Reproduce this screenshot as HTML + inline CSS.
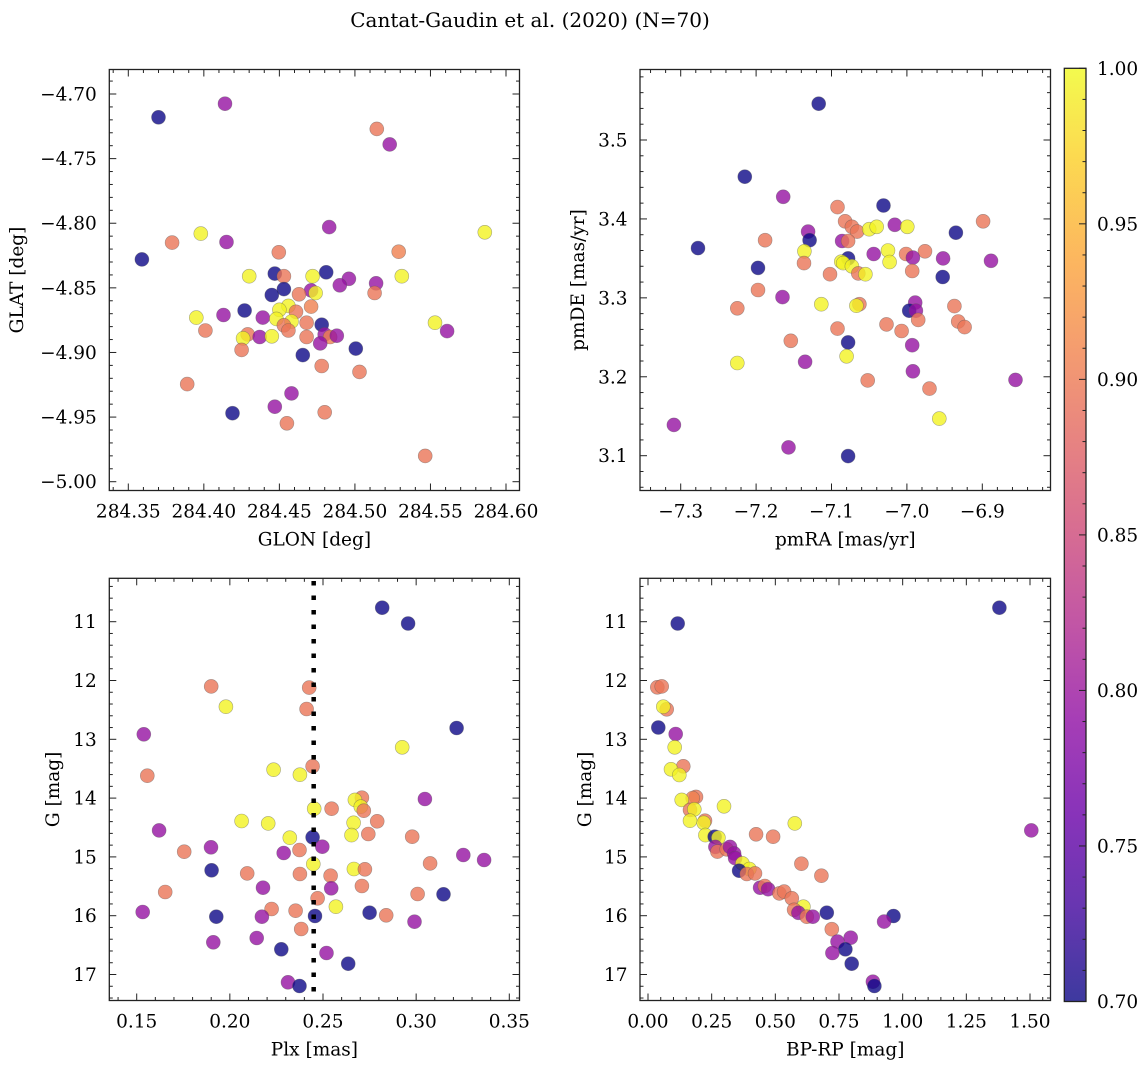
<!DOCTYPE html>
<html><head><meta charset="utf-8"><style>
html,body{margin:0;padding:0;background:#fff;}
svg text{font-family:"DejaVu Serif","Liberation Serif",serif;fill:#000;}
</style></head><body>
<svg id="fig" width="1148" height="1068" viewBox="0 0 1148 1068" xmlns="http://www.w3.org/2000/svg">
<defs>
<linearGradient id="plasmaGrad" x1="0" y1="1" x2="0" y2="0">
<stop offset="0" stop-color="#0d0887"/><stop offset="0.1" stop-color="#41049d"/><stop offset="0.2" stop-color="#6a00a8"/><stop offset="0.3" stop-color="#8f0da4"/><stop offset="0.4" stop-color="#b12a90"/><stop offset="0.5" stop-color="#cc4778"/><stop offset="0.6" stop-color="#e16462"/><stop offset="0.7" stop-color="#f2844b"/><stop offset="0.8" stop-color="#fca636"/><stop offset="0.9" stop-color="#fcce25"/><stop offset="1" stop-color="#f0f921"/>
</linearGradient>
</defs>
<text x="530" y="27" font-size="20" text-anchor="middle">Cantat-Gaudin et al. (2020) (N=70)</text>
</svg>
<script>
// ---- Panel 1: GLON / GLAT ----
const p1Glon = [284.370,284.414,284.5145,284.523,284.483,284.586,284.398,284.379,284.415,284.4496,284.529,284.359,284.430,284.447,284.453,284.472,284.481,284.531,284.496,284.490,284.514,284.513,284.453,284.471,284.474,284.445,284.463,284.471,284.456,284.450,284.461,284.427,284.413,284.395,284.439,284.448,284.458,284.468,284.478,284.453,284.401,284.456,284.561,284.553,284.429,284.426,284.437,284.445,284.468,284.480,284.4836,284.488,284.477,284.425,284.5006,284.4655,284.478,284.503,284.389,284.458,284.447,284.419,284.480,284.455,284.5465];
const p1Glat = [-4.718,-4.7075,-4.727,-4.739,-4.803,-4.807,-4.808,-4.815,-4.8145,-4.8225,-4.822,-4.828,-4.841,-4.839,-4.841,-4.841,-4.838,-4.841,-4.843,-4.848,-4.8465,-4.854,-4.851,-4.852,-4.854,-4.8555,-4.855,-4.8645,-4.864,-4.867,-4.8685,-4.8675,-4.871,-4.873,-4.873,-4.874,-4.876,-4.877,-4.8785,-4.879,-4.883,-4.883,-4.8835,-4.877,-4.886,-4.889,-4.888,-4.8875,-4.888,-4.886,-4.888,-4.887,-4.893,-4.898,-4.897,-4.902,-4.9105,-4.915,-4.9245,-4.9317,-4.942,-4.947,-4.9463,-4.9548,-4.980];
const p1Prob = [0.70,0.795,0.895,0.795,0.795,0.995,0.995,0.895,0.795,0.895,0.905,0.70,0.995,0.70,0.895,0.995,0.70,0.995,0.795,0.795,0.795,0.895,0.70,0.795,0.995,0.70,0.895,0.905,0.995,0.995,0.895,0.70,0.795,0.995,0.795,0.995,0.995,0.895,0.70,0.895,0.895,0.895,0.795,0.995,0.895,0.995,0.795,0.995,0.895,0.795,0.905,0.795,0.795,0.895,0.70,0.70,0.895,0.895,0.895,0.795,0.795,0.70,0.895,0.895,0.895];
const p1XTicks = [284.35,284.40,284.45,284.50,284.55,284.60];
const p1XTickLabels = ["284.35","284.40","284.45","284.50","284.55","284.60"];
const p1YTicks = [-4.70,-4.75,-4.80,-4.85,-4.90,-4.95,-5.00];
const p1YTickLabels = ["\u22124.70","\u22124.75","\u22124.80","\u22124.85","\u22124.90","\u22124.95","\u22125.00"];

// ---- Panel 2: pmRA / pmDE ----
const p2PmRA = [-7.117,-7.215,-7.164,-7.092,-7.031,-6.899,-7.082,-7.073,-7.066,-7.050,-7.040,-7.016,-6.9995,-6.935,-7.131,-7.129,-7.188,-7.086,-7.078,-7.277,-7.136,-7.044,-7.025,-6.976,-7.001,-6.992,-6.952,-6.8885,-7.078,-7.087,-7.0845,-7.023,-7.1365,-7.1975,-7.073,-6.993,-7.102,-7.0645,-7.055,-6.9525,-7.1975,-7.165,-7.225,-7.1135,-7.063,-7.067,-6.989,-6.997,-6.988,-6.937,-6.985,-6.932,-6.9235,-7.027,-7.007,-7.092,-7.154,-7.078,-6.993,-7.080,-7.225,-7.135,-6.992,-7.052,-6.856,-6.970,-6.957,-7.309,-7.157,-7.078];
const p2PmDE = [3.546,3.4535,3.428,3.415,3.417,3.397,3.397,3.390,3.384,3.387,3.390,3.3926,3.390,3.3825,3.384,3.373,3.373,3.372,3.372,3.363,3.359,3.3555,3.360,3.359,3.3555,3.351,3.350,3.347,3.350,3.3458,3.344,3.3454,3.344,3.338,3.340,3.334,3.330,3.331,3.330,3.3264,3.310,3.301,3.2867,3.292,3.292,3.290,3.294,3.2837,3.2837,3.2896,3.272,3.270,3.263,3.2664,3.258,3.261,3.2456,3.2436,3.240,3.226,3.2174,3.219,3.207,3.1954,3.196,3.185,3.147,3.139,3.1105,3.0995];
const p2Prob = [0.70,0.70,0.795,0.895,0.70,0.895,0.895,0.895,0.895,0.995,0.995,0.795,0.995,0.70,0.795,0.70,0.895,0.795,0.895,0.70,0.995,0.795,0.995,0.895,0.895,0.795,0.795,0.795,0.70,0.995,0.995,0.995,0.895,0.70,0.995,0.895,0.895,0.895,0.995,0.70,0.895,0.795,0.895,0.995,0.895,0.995,0.795,0.70,0.795,0.895,0.895,0.895,0.895,0.895,0.895,0.895,0.895,0.70,0.795,0.995,0.995,0.795,0.795,0.895,0.795,0.895,0.995,0.795,0.795,0.70];
const p2XTicks = [-7.3,-7.2,-7.1,-7.0,-6.9];
const p2XTickLabels = ["\u22127.3","\u22127.2","\u22127.1","\u22127.0","\u22126.9"];
const p2YTicks = [3.1,3.2,3.3,3.4,3.5];
const p2YTickLabels = ["3.1","3.2","3.3","3.4","3.5"];

// ---- Panel 3: Plx / G ----
const p3Plx = [0.2818,0.2957,0.190,0.2426,0.1979,0.2412,0.1538,0.3217,0.2925,0.1557,0.2235,0.2376,0.2444,0.3047,0.2709,0.2671,0.2703,0.2719,0.2546,0.2453,0.2063,0.2206,0.2664,0.2791,0.162,0.2743,0.2653,0.2979,0.2322,0.2444,0.2496,0.1899,0.1755,0.2374,0.2289,0.3253,0.3365,0.2448,0.3075,0.1902,0.2666,0.2725,0.2093,0.2376,0.2541,0.2178,0.2544,0.2709,0.1653,0.3008,0.3147,0.2471,0.2569,0.1532,0.2224,0.2353,0.275,0.1927,0.2172,0.2457,0.2839,0.2991,0.2383,0.1911,0.2144,0.2276,0.2519,0.2635,0.2312,0.2374];
const p3G = [10.762,11.03,12.10,12.12,12.446,12.485,12.915,12.808,13.136,13.619,13.517,13.602,13.459,14.015,13.993,14.03,14.146,14.214,14.18,14.18,14.39,14.43,14.42,14.395,14.55,14.61,14.63,14.656,14.673,14.667,14.827,14.837,14.911,14.883,14.934,14.968,15.053,15.12,15.11,15.228,15.206,15.211,15.28,15.29,15.32,15.524,15.534,15.495,15.597,15.631,15.636,15.704,15.847,15.937,15.886,15.915,15.949,16.017,16.017,16.005,15.993,16.102,16.226,16.452,16.38,16.572,16.634,16.816,17.133,17.196];
const p3Prob = [0.70,0.70,0.895,0.895,0.995,0.895,0.795,0.70,0.995,0.895,0.995,0.995,0.895,0.795,0.895,0.995,0.995,0.895,0.895,0.995,0.995,0.995,0.995,0.895,0.795,0.895,0.995,0.895,0.995,0.70,0.795,0.795,0.895,0.895,0.795,0.795,0.795,0.995,0.895,0.70,0.995,0.895,0.895,0.895,0.895,0.795,0.795,0.895,0.895,0.895,0.70,0.895,0.995,0.795,0.895,0.895,0.70,0.70,0.795,0.70,0.895,0.795,0.895,0.795,0.795,0.70,0.795,0.70,0.795,0.70];
const p3PlxRef = [0.245];
const p3XTicks = [0.15,0.20,0.25,0.30,0.35];
const p3XTickLabels = ["0.15","0.20","0.25","0.30","0.35"];
const gTicks = [11,12,13,14,15,16,17];
const gTickLabels = ["11","12","13","14","15","16","17"];

// ---- Panel 4: BP-RP / G ----
const p4BpRp = [1.380,0.1167,0.0366,0.0537,0.0734,0.060,0.0406,0.1088,0.1049,0.1388,0.0904,0.123,0.1886,0.1755,0.1323,0.2986,0.165,0.182,0.224,0.2188,0.165,0.5763,0.4244,0.4912,0.2253,0.262,0.2763,0.2645,0.2724,0.309,0.322,0.338,0.342,0.6024,0.3706,0.398,0.3576,0.388,0.420,0.681,0.440,0.4585,0.4715,0.516,0.5344,0.5646,0.6103,0.5737,0.5906,0.6236,0.647,0.702,0.964,0.927,0.7218,0.744,0.796,0.775,0.724,0.800,0.883,0.889,1.505];
const p4G = [10.762,11.03,12.116,12.10,12.49,12.446,12.80,12.91,13.136,13.459,13.51,13.607,13.98,14.0,14.03,14.14,14.20,14.19,14.385,14.42,14.385,14.43,14.616,14.656,14.63,14.656,14.673,14.83,14.91,14.87,14.83,14.94,15.02,15.116,15.11,15.206,15.235,15.29,15.28,15.32,15.524,15.495,15.55,15.62,15.59,15.704,15.847,15.90,15.95,16.017,16.017,15.949,16.005,16.10,16.23,16.44,16.374,16.572,16.634,16.816,17.122,17.196,14.55];
const p4Prob = [0.70,0.70,0.895,0.895,0.895,0.995,0.70,0.795,0.995,0.895,0.995,0.995,0.895,0.905,0.995,0.995,0.895,0.995,0.895,0.995,0.995,0.995,0.895,0.895,0.995,0.70,0.995,0.795,0.895,0.895,0.795,0.795,0.795,0.895,0.995,0.995,0.70,0.895,0.895,0.895,0.795,0.895,0.795,0.895,0.895,0.895,0.995,0.895,0.795,0.895,0.795,0.70,0.70,0.795,0.895,0.795,0.795,0.70,0.795,0.70,0.795,0.70,0.795];
const p4XTicks = [0,0.25,0.5,0.75,1.0,1.25,1.5];
const p4XTickLabels = ["0.00","0.25","0.50","0.75","1.00","1.25","1.50"];

// ---- Colorbar ----
const cbTicks = [0.70,0.75,0.80,0.85,0.90,0.95,1.00];
const cbTickLabels = ["0.70","0.75","0.80","0.85","0.90","0.95","1.00"];
const cbMin = 0.70, cbMax = 1.00;

const FS = 18.5;
const NS = "http://www.w3.org/2000/svg";
const svg = document.getElementById("fig");
function mk(tag, attrs, parent){ const e=document.createElementNS(NS,tag); for(const k in attrs) e.setAttribute(k,attrs[k]); (parent||svg).appendChild(e); return e; }
function lin(d0,d1,r0,r1){ return v => r0 + (v-d0)*(r1-r0)/(d1-d0); }

const plasma = ["#0d0887","#41049d","#6a00a8","#8f0da4","#b12a90","#cc4778","#e16462","#f2844b","#fca636","#fcce25","#f0f921"];
function hex(h){ return [parseInt(h.substr(1,2),16),parseInt(h.substr(3,2),16),parseInt(h.substr(5,2),16)]; }
function cmap(p){
  let t=(p-cbMin)/(cbMax-cbMin); t=Math.max(0,Math.min(1,t));
  const f=t*10, i=Math.min(9,Math.floor(f)), u=f-i;
  const a=hex(plasma[i]), b=hex(plasma[i+1]);
  return "rgb("+a.map((c,k)=>Math.round(c+(b[k]-c)*u)).join(",")+")";
}

function panel(cfg){
  const g = mk("g",{});
  
  
  const {L,R,T,B,sx,sy} = cfg;
  const pg = mk("g",{},g);
  
  
  for(let i=0;i<cfg.xs.length;i++){
    const c = mk("circle",{cx:sx(cfg.xs[i]).toFixed(1),cy:sy(cfg.ys[i]).toFixed(1),r:7,fill:cmap(cfg.cs[i]),"fill-opacity":0.8,stroke:"#555","stroke-opacity":0.5,"stroke-width":0.6},pg);
    
    
  }
  if(cfg.extra) cfg.extra(g);
  const fr = mk("rect",{x:L,y:T,width:R-L,height:B-T,fill:"none",stroke:"#222","stroke-width":1.3},g);
  
  
  const xt = cfg.xTicks, step=(xt[1]-xt[0])/5;
  const xAxis = mk("g",{},g);
  
  
  for(let k=-10;k<=(xt.length+1)*5;k++){
    const v=xt[0]+k*step, x=sx(v); if(x<L-0.5||x>R+0.5) continue;
    const major = ((k%5)+5)%5===0;
    const len = major?7:3.5;
    mk("line",{x1:x,x2:x,y1:B,y2:B-len,stroke:"#222","stroke-width":1},xAxis);
    mk("line",{x1:x,x2:x,y1:T,y2:T+len,stroke:"#222","stroke-width":1},xAxis);
  }
  xt.forEach((v,i)=>{
    const t=mk("text",{x:sx(v),y:B+27,"font-size":FS,"text-anchor":"middle"},xAxis); t.textContent=cfg.xLabels[i];
    
    
  });
  const xtitle=mk("text",{x:(L+R)/2,y:B+55,"font-size":FS,"text-anchor":"middle"},g); xtitle.textContent=cfg.xTitle;
  
  
  const yt = cfg.yTicks, ys=(yt[1]-yt[0])/5;
  const yAxis = mk("g",{},g);
  
  
  for(let k=-10;k<=(yt.length+1)*5;k++){
    const v=yt[0]+k*ys, y=sy(v); if(y<T-0.5||y>B+0.5) continue;
    const major = ((k%5)+5)%5===0; const len=major?7:3.5;
    mk("line",{x1:L,x2:L+len,y1:y,y2:y,stroke:"#222","stroke-width":1},yAxis);
    mk("line",{x1:R,x2:R-len,y1:y,y2:y,stroke:"#222","stroke-width":1},yAxis);
  }
  yt.forEach((v,i)=>{
    const t=mk("text",{x:L-12.5,y:sy(v)+6.5,"font-size":FS,"text-anchor":"end"},yAxis); t.textContent=cfg.yLabels[i];
    
    
  });
  const ytitle=mk("text",{x:0,y:0,"font-size":FS,"text-anchor":"middle",transform:`translate(${cfg.yTitleX},${(T+B)/2}) rotate(-90)`},g); ytitle.textContent=cfg.yTitle;
  
  
}

const gy = lin(11,17,621.7,974.5);

panel({name:"sky-position-panel",L:109.3,R:519.5,T:69.5,B:490.5,
  sx:lin(284.35,284.60,128.3,506),sy:lin(-4.70,-5.00,94,481.7),
  xs:p1Glon,ys:p1Glat,cs:p1Prob,xTicks:p1XTicks,xLabels:p1XTickLabels,yTicks:p1YTicks,yLabels:p1YTickLabels,
  xTitle:"GLON [deg]",yTitle:"GLAT [deg]",yTitleX:23});

panel({name:"proper-motion-panel",L:640,R:1050.5,T:69.5,B:490.5,
  sx:lin(-7.3,-6.9,680.7,982.3),sy:lin(3.5,3.1,140,455.7),
  xs:p2PmRA,ys:p2PmDE,cs:p2Prob,xTicks:p2XTicks,xLabels:p2XTickLabels,yTicks:p2YTicks,yLabels:p2YTickLabels,
  xTitle:"pmRA [mas/yr]",yTitle:"pmDE [mas/yr]",yTitleX:584});

const p3sx = lin(0.15,0.35,136.7,509.3);
panel({name:"parallax-panel",L:109.3,R:519.5,T:578.3,B:1000.5,
  sx:p3sx,sy:gy,
  xs:p3Plx,ys:p3G,cs:p3Prob,xTicks:p3XTicks,xLabels:p3XTickLabels,yTicks:gTicks,yLabels:gTickLabels,
  xTitle:"Plx [mas]",yTitle:"G [mag]",yTitleX:59,
  extra:(g)=>{ p3PlxRef.forEach(v=>{
    const l=mk("line",{x1:p3sx(v),x2:p3sx(v),y1:581,y2:1000,stroke:"#000","stroke-width":4.5,"stroke-dasharray":"4.5 10"},g);
    
    
  });}});

panel({name:"cmd-panel",L:640,R:1050.5,T:578.3,B:1000.5,
  sx:lin(0,1.5,648,1030),sy:gy,
  xs:p4BpRp,ys:p4G,cs:p4Prob,xTicks:p4XTicks,xLabels:p4XTickLabels,yTicks:gTicks,yLabels:gTickLabels,
  xTitle:"BP-RP [mag]",yTitle:"G [mag]",yTitleX:591});

(function(){
  const L=1064.3,R=1086,T=68.3,B=1001.5, sy=lin(cbMin,cbMax,B,T);
  const g=mk("g",{});
  
  
  mk("rect",{x:L,y:T,width:R-L,height:B-T,fill:"url(#plasmaGrad)","fill-opacity":0.8,stroke:"none"},g);
  mk("rect",{x:L,y:T,width:R-L,height:B-T,fill:"none",stroke:"#222","stroke-width":1.3},g);
  for(let k=0;k<=30;k++){
    const v=cbMin+k*0.01, y=sy(v), major=k%5===0;
    mk("line",{x1:R,x2:R-(major?7:3.5),y1:y,y2:y,stroke:"#222","stroke-width":1},g);
  }
  cbTicks.forEach((v,i)=>{
    const t=mk("text",{x:R+11,y:sy(v)+6.5,"font-size":FS},g); t.textContent=cbTickLabels[i];
    
    
  });
})();
</script>
</body></html>
